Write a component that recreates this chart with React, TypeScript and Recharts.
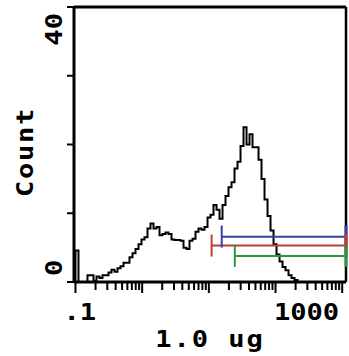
import React from 'react';
import { ComposedChart, Line, XAxis, YAxis, ReferenceLine } from 'recharts';

// log axis, a little past .1 and 1000 on both sides like the instrument plot
const X_MIN = 0.095;
const X_MAX = 1140;
const BIN_START = 0.1;
const BIN_DECADES = 0.045;

// histogram counts per channel
const counts = [
  4.6, 0, 0, 0, 1.0, 1.0, 0.2, 0.8, 0.6, 1.0,
  1.0, 1.4, 1.8, 1.5, 2.0, 2.3, 2.8, 2.8, 3.6, 4.2,
  4.8, 5.5, 6.2, 6.5, 7.8, 8.5, 7.8, 8.0, 6.8, 7.0,
  7.2, 7.0, 6.2, 6.1, 6.1, 6.0, 5.0, 4.8, 6.0, 6.3,
  7.3, 7.8, 7.6, 8.0, 9.4, 9.8, 11.2, 10.5, 9.2, 11.2,
  12.5, 13.8, 14.5, 16.5, 17.5, 19.8, 22.5, 20.0, 21.5, 19.6,
  19.6, 17.8, 15.0, 12.0, 9.6, 7.5, 5.5, 4.0, 3.0, 2.2,
  1.7, 1.0, 0.6, 0.3, 0,
];

const xTicks = [
  0.1, 0.2, 0.3, 0.4, 0.5, 0.6, 0.7, 0.8, 0.9,
  1, 2, 3, 4, 5, 6, 7, 8, 9,
  10, 20, 30, 40, 50, 60, 70, 80, 90,
  100, 200, 300, 400, 500, 600, 700, 800, 900, 1000,
];
const xDecades = [0.1, 1, 10, 100, 1000];
const xTickLabels: Record<string, string> = { '0.1': '.1', '1000': '1000' };

const yTicks = [0, 10, 20, 30, 40];
const yTickLabels: Record<string, string> = { '0': '0', '40': '40' };

// marker gates
const gateStart = [15.6, 11.0, 24.5];
const gateLevel = [6.6, 5.3, 3.8];
const gateColors = ['#3a3ea8', '#c23a3a', '#2f9444'];

const histData = [
  { x: BIN_START, count: 0 },
  ...counts.map((c, i) => ({ x: BIN_START * Math.pow(10, i * BIN_DECADES), count: c })),
  { x: BIN_START * Math.pow(10, counts.length * BIN_DECADES), count: 0 },
];

const FONT = "'DejaVu Sans Mono', monospace";

function MonoText({
  x,
  y,
  rotate = 0,
  anchor = 'middle',
  spacing = 0,
  children,
}: {
  x: number;
  y: number;
  rotate?: number;
  anchor?: 'start' | 'middle' | 'end';
  spacing?: number;
  children: React.ReactNode;
}) {
  return (
    <text
      transform={`translate(${x},${y}) rotate(${rotate}) scale(1.18,1)`}
      textAnchor={anchor}
      fontFamily={FONT}
      fontWeight="bold"
      fontSize={23}
      letterSpacing={spacing}
      fill="#000"
    >
      {children}
    </text>
  );
}

function XTick(props: any) {
  const { x, y, payload } = props;
  const v = payload.value;
  const major = xDecades.includes(v);
  const label = xTickLabels[String(v)];
  return (
    <g>
      <line x1={x} x2={x} y1={y} y2={y + (major ? 11 : 8)} stroke="#000" strokeWidth={2} />
      {label && (
        <MonoText x={v === 0.1 ? x - 12 : x - 3} y={y + 38} anchor={v === 0.1 ? 'start' : 'end'}>
          {label}
        </MonoText>
      )}
    </g>
  );
}

function YTick(props: any) {
  const { x, y, payload } = props;
  const v = payload.value;
  const label = yTickLabels[String(v)];
  return (
    <g>
      <line x1={x - 7} x2={x} y1={y} y2={y} stroke="#000" strokeWidth={2} />
      {label && (
        <MonoText x={x - 12} y={v === 0 ? y - 6 : y + 6} rotate={-90} anchor={v === 0 ? 'start' : 'end'}>
          {label}
        </MonoText>
      )}
    </g>
  );
}

export default function App() {
  return (
    <div style={{ position: 'absolute', left: 0, top: 0, width: 349, height: 356, background: '#fff' }}>
      <ComposedChart
        width={349}
        height={356}
        data={histData}
        margin={{ top: 7, right: 3, left: 0, bottom: 0 }}
      >
        <XAxis
          dataKey="x"
          type="number"
          scale="log"
          domain={[X_MIN, X_MAX]}
          allowDataOverflow
          ticks={xTicks}
          interval={0}
          height={74}
          tickSize={0}
          tickMargin={0}
          tickLine={false}
          tick={<XTick />}
          axisLine={{ stroke: '#000', strokeWidth: 3 }}
          label={{
            content: ({ viewBox }: any) => (
              <MonoText x={viewBox.x + viewBox.width / 2} y={viewBox.y + 65} spacing={1.6}>
                1.0 ug
              </MonoText>
            ),
          }}
        />
        <YAxis
          type="number"
          domain={[0, 40]}
          ticks={yTicks}
          interval={0}
          width={74}
          tickSize={0}
          tickMargin={0}
          tickLine={false}
          tick={<YTick />}
          axisLine={{ stroke: '#000', strokeWidth: 3 }}
          label={{
            content: () => (
              <MonoText x={33} y={152} rotate={-90} spacing={1.4}>
                Count
              </MonoText>
            ),
          }}
        />
        <ReferenceLine y={40} stroke="#000" strokeWidth={3} />
        <ReferenceLine x={X_MAX} stroke="#000" strokeWidth={2.5} />
        <Line
          type="stepAfter"
          dataKey="count"
          stroke="#000"
          strokeWidth={2}
          dot={false}
          activeDot={false}
          isAnimationActive={false}
        />
        {gateStart.map((start, i) => (
          <ReferenceLine
            key={`g-${i}`}
            segment={[
              { x: start, y: gateLevel[i] },
              { x: X_MAX, y: gateLevel[i] },
            ]}
            stroke={gateColors[i]}
            strokeWidth={2}
          />
        ))}
        {gateStart.map((start, i) => (
          <ReferenceLine
            key={`gl-${i}`}
            segment={[
              { x: start, y: gateLevel[i] - 1.6 },
              { x: start, y: gateLevel[i] + 1.6 },
            ]}
            stroke={gateColors[i]}
            strokeWidth={2}
          />
        ))}
        {gateStart.map((start, i) => (
          <ReferenceLine
            key={`gr-${i}`}
            segment={[
              { x: X_MAX, y: gateLevel[i] - 1.6 },
              { x: X_MAX, y: gateLevel[i] + 1.6 },
            ]}
            stroke={gateColors[i]}
            strokeWidth={3}
          />
        ))}
      </ComposedChart>
    </div>
  );
}
